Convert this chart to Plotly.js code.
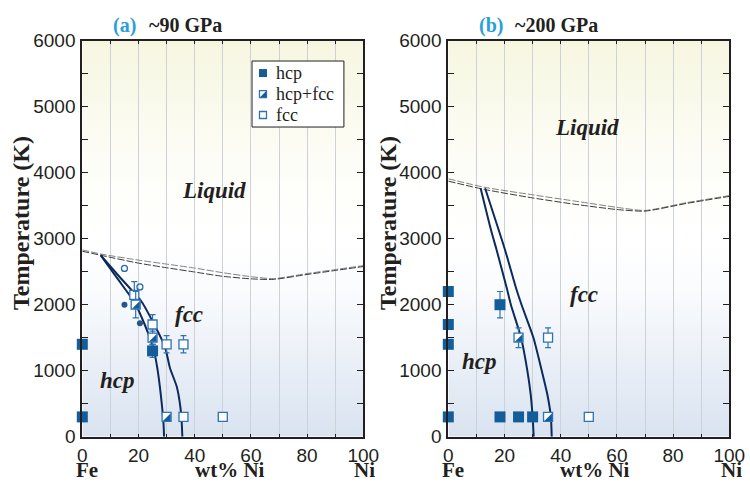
<!DOCTYPE html>
<html><head><meta charset="utf-8">
<script src="https://cdn.plot.ly/plotly-3.0.1.min.js"></script>
<style>html,body{margin:0;padding:0;background:#fff}#chart{width:750px;height:483px}</style>
</head><body><div id="chart"></div>
<script>
// ---------- DATA ----------
const xTickVals = [0, 20, 40, 60, 80, 100];
const yTickVals = [0, 1000, 2000, 3000, 4000, 5000, 6000];
const legendLabels = ['hcp', 'hcp+fcc', 'fcc'];

// Panel (a) ~90 GPa
const a_hcp_x = [0, 0, 25];
const a_hcp_T = [1400, 300, 1300];
const a_hcp_err = [0, 0, 100];
const a_mix_x = [19, 25, 30];
const a_mix_T = [2000, 1500, 300];
const a_mix_err = [200, 100, 0];
const a_fcc_x = [18.5, 25, 30, 36, 36, 50];
const a_fcc_T = [2150, 1700, 1400, 1400, 300, 300];
const a_fcc_err = [200, 150, 130, 130, 0, 0];
const a_open_x = [15, 20.5];
const a_open_T = [2550, 2270];
const a_dot_x = [15, 20.5];
const a_dot_T = [2000, 1720];
const a_liqU_x = [0, 7, 20, 30, 40, 50, 60, 68, 80, 90, 100];
const a_liqU_T = [2830, 2765, 2675, 2615, 2555, 2485, 2425, 2395, 2472, 2532, 2592];
const a_liqL_x = [0, 7, 20, 30, 40, 50, 60, 68, 80, 90, 100];
const a_liqL_T = [2810, 2745, 2630, 2560, 2495, 2430, 2392, 2383, 2458, 2518, 2578];
const a_bndL_x = [6.5, 12.6, 18.8, 22.2, 25.3, 26.7, 27.6, 28.4, 28.9, 29.1];
const a_bndL_T = [2750, 2390, 2020, 1700, 1340, 1040, 760, 450, 200, 0];
const a_bndU_x = [6.5, 13.3, 21.1, 25.6, 29.4, 31.2, 33.6, 34.9, 35.4, 35.6];
const a_bndU_T = [2750, 2420, 2045, 1700, 1364, 1040, 760, 450, 200, 0];

// Panel (b) ~200 GPa
const b_hcp_x = [0, 0, 0, 0, 18.4, 18.4, 25, 30];
const b_hcp_T = [2200, 1700, 1400, 300, 2000, 300, 300, 300];
const b_hcp_err = [0, 0, 0, 0, 200, 0, 0, 0];
const b_mix_x = [25, 35.5];
const b_mix_T = [1500, 300];
const b_mix_err = [150, 0];
const b_fcc_x = [35.5, 50];
const b_fcc_T = [1500, 300];
const b_fcc_err = [150, 0];
const b_liqU_x = [0, 13, 30, 45, 60, 70, 85, 100];
const b_liqU_T = [3908, 3778, 3665, 3570, 3475, 3428, 3548, 3653];
const b_liqL_x = [0, 13, 30, 45, 60, 70, 85, 100];
const b_liqL_T = [3872, 3745, 3618, 3522, 3442, 3418, 3536, 3641];
const b_bndL_x = [11.5, 15.2, 17.2, 20.8, 22.3, 25.9, 28.1, 29.3, 30.0, 30.4];
const b_bndL_T = [3764, 3131, 2829, 2253, 1995, 1500, 1010, 650, 303, 0];
const b_bndU_x = [13.1, 20.2, 24.1, 26.1, 30.3, 33.2, 35.2, 36.5, 36.8];
const b_bndU_T = [3764, 2829, 2253, 1995, 1500, 1010, 650, 303, 0];

// ---------- STYLE / LAYOUT ----------
const W = 750, H = 483;
const SERIF = 'Liberation Serif, Times New Roman, serif';
const SANS = 'Liberation Sans, Arial, sans-serif';
const BLUE = '#135d9b';
const EBLUE = '#2f72b2';
const NAVY = '#0c2a5c';
const INK = '#231f20';
const GRID = '#cdd1d8';
const DOM_A = [82.3 / W, 363.3 / W];
const DOM_B = [448.3 / W, 729.3 / W];
const DOM_Y = [1 - 436.7 / H, 1 - 40.7 / H];
const pxX = W * (DOM_A[1] - DOM_A[0]) / 100;
const pxY = H * (DOM_Y[1] - DOM_Y[0]) / 6000;

function errY(arr) {
  return {type: 'data', array: arr, visible: true, color: EBLUE, thickness: 1.2, width: 3};
}
function hcpTrace(x, y, err, xa, ya, size) {
  return {type: 'scatter', mode: 'markers', x: x, y: y, xaxis: xa, yaxis: ya, cliponaxis: false,
    error_y: err ? errY(err) : undefined, hoverinfo: 'skip', showlegend: false,
    marker: {symbol: 'square', size: size, color: BLUE, line: {width: 0}}};
}
function fccTrace(x, y, err, xa, ya, size) {
  return {type: 'scatter', mode: 'markers', x: x, y: y, xaxis: xa, yaxis: ya, cliponaxis: false,
    error_y: err ? errY(err) : undefined, hoverinfo: 'skip', showlegend: false,
    marker: {symbol: 'square', size: size, color: '#ffffff', line: {width: 1.3, color: EBLUE}}};
}
function mixTraces(x, y, err, xa, ya, size) {
  const off = size / 6;
  const tx = x.map(v => v + off / pxX);
  const ty = y.map(v => v - off / pxY);
  return [
    fccTrace(x, y, err, xa, ya, size),
    {type: 'scatter', mode: 'markers', x: tx, y: ty, xaxis: xa, yaxis: ya, cliponaxis: false,
      hoverinfo: 'skip', showlegend: false,
      marker: {symbol: 'triangle-se', size: (size + 1.3) / 1.2, color: BLUE, line: {width: 0}}}
  ];
}
function lineTrace(x, y, xa, ya, color, width, dash, shape) {
  return {type: 'scatter', mode: 'lines', x: x, y: y, xaxis: xa, yaxis: ya, hoverinfo: 'skip',
    showlegend: false, line: {color: color, width: width, dash: dash || 'solid', shape: shape || 'linear', smoothing: 0.6}};
}

const traces = [];
// panel a
traces.push(lineTrace(a_liqU_x, a_liqU_T, 'x', 'y', '#808080', 1, '7px,2px', 'spline'));
traces.push(lineTrace(a_liqL_x, a_liqL_T, 'x', 'y', '#3a3a3a', 1, '7px,2px', 'spline'));
traces.push(lineTrace(a_bndL_x, a_bndL_T, 'x', 'y', NAVY, 2, 'solid', 'spline'));
traces.push(lineTrace(a_bndU_x, a_bndU_T, 'x', 'y', NAVY, 2, 'solid', 'spline'));
traces.push({type: 'scatter', mode: 'markers', x: a_open_x, y: a_open_T, xaxis: 'x', yaxis: 'y', hoverinfo: 'skip', showlegend: false,
  marker: {symbol: 'circle-open', size: 6, color: '#2a6aa8', line: {width: 1.3}}});
traces.push({type: 'scatter', mode: 'markers', x: a_dot_x, y: a_dot_T, xaxis: 'x', yaxis: 'y', hoverinfo: 'skip', showlegend: false,
  marker: {symbol: 'circle', size: 6, color: '#24568c', line: {width: 0}}});
traces.push(fccTrace(a_fcc_x, a_fcc_T, a_fcc_err, 'x', 'y', 9));
mixTraces(a_mix_x, a_mix_T, a_mix_err, 'x', 'y', 9).forEach(t => traces.push(t));
traces.push(hcpTrace(a_hcp_x, a_hcp_T, a_hcp_err, 'x', 'y', 11));
// panel b
traces.push(lineTrace(b_liqU_x, b_liqU_T, 'x2', 'y2', '#808080', 1, '7px,2px', 'spline'));
traces.push(lineTrace(b_liqL_x, b_liqL_T, 'x2', 'y2', '#3a3a3a', 1, '7px,2px', 'spline'));
traces.push(lineTrace(b_bndL_x, b_bndL_T, 'x2', 'y2', NAVY, 2, 'solid', 'spline'));
traces.push(lineTrace(b_bndU_x, b_bndU_T, 'x2', 'y2', NAVY, 2, 'solid', 'spline'));
traces.push(fccTrace(b_fcc_x, b_fcc_T, b_fcc_err, 'x2', 'y2', 9));
mixTraces(b_mix_x, b_mix_T, b_mix_err, 'x2', 'y2', 9).forEach(t => traces.push(t));
traces.push(hcpTrace(b_hcp_x, b_hcp_T, b_hcp_err, 'x2', 'y2', 11));

// manual legend (panel a, in its data space)
const LEG = {x0: 60.4, x1: 93.1, y0: 4692, y1: 5692, iconX: 64.3, textX: 68.3, rows: [5510, 5192, 4874]};
traces.push(hcpTrace([LEG.iconX], [LEG.rows[0]], null, 'x', 'y', 8));
mixTraces([LEG.iconX], [LEG.rows[1]], null, 'x', 'y', 7).forEach(t => traces.push(t));
traces.push(fccTrace([LEG.iconX], [LEG.rows[2]], null, 'x', 'y', 7));

// background gradient image
const svg = "<svg xmlns='http://www.w3.org/2000/svg' width='10' height='100' viewBox='0 0 10 100' preserveAspectRatio='none'>" +
  "<defs><linearGradient id='g' x1='0' y1='0' x2='0' y2='1'>" +
  "<stop offset='0' stop-color='#f6f6e0'/><stop offset='0.3' stop-color='#fdfdf7'/>" +
  "<stop offset='0.5' stop-color='#ffffff'/><stop offset='0.62' stop-color='#fbfcfe'/>" +
  "<stop offset='1' stop-color='#d9e3f0'/></linearGradient></defs>" +
  "<rect width='10' height='100' fill='url(#g)'/></svg>";
const bgSrc = 'data:image/svg+xml;charset=utf-8,' + encodeURIComponent(svg);

function xAxis(dom, anchor) {
  return {domain: dom, anchor: anchor, range: [0, 100], tickvals: xTickVals, ticks: 'inside', ticklen: 3,
    tickwidth: 1, tickcolor: INK, showline: true, linecolor: INK, linewidth: 2, mirror: 'ticks',
    showgrid: true, gridcolor: GRID, gridwidth: 1, zeroline: false,
    tickfont: {family: SANS, size: 19, color: INK}, fixedrange: true,
    minor: {dtick: 10, ticks: 'inside', ticklen: 3, tickwidth: 1, tickcolor: INK, showgrid: true, gridcolor: GRID, gridwidth: 1}};
}
function yAxis(anchor) {
  return {domain: DOM_Y, anchor: anchor, range: [0, 6000], tickvals: yTickVals, ticks: 'inside', ticklen: 6,
    tickwidth: 1.5, tickcolor: INK, showline: true, linecolor: INK, linewidth: 2, mirror: 'ticks',
    showgrid: false, zeroline: false, ticklabelstandoff: 1,
    tickfont: {family: SANS, size: 19, color: INK}, fixedrange: true,
    minor: {dtick: 500, ticks: 'inside', ticklen: 6, tickwidth: 1.5, tickcolor: INK, showgrid: false}};
}

function ann(text, x, y, xref, yref, size, opts) {
  return Object.assign({text: text, x: x, y: y, xref: xref, yref: yref, showarrow: false,
    xanchor: 'center', yanchor: 'middle',
    font: {family: SERIF, size: size, color: INK}}, opts || {});
}
const BOT = {y: 0, yanchor: 'bottom', borderpad: 0};
const annotations = [
  // panel titles
  ann('<b>(a)</b>', 124.5 / W, 1 - 25 / H, 'paper', 'paper', 20, {font: {family: SERIF, size: 20, color: '#2aa0d8'}}),
  ann('<b>~90 GPa</b>', 147 / W, 1 - 25 / H, 'paper', 'paper', 20, {xanchor: 'left'}),
  ann('<b>(b)</b>', 491 / W, 1 - 25 / H, 'paper', 'paper', 20, {font: {family: SERIF, size: 20, color: '#2aa0d8'}}),
  ann('<b>~200 GPa</b>', 513 / W, 1 - 25 / H, 'paper', 'paper', 20, {xanchor: 'left'}),
  // y titles
  ann('<b>Temperature (K)</b>', 21 / W, 1 - 223 / H, 'paper', 'paper', 24, {textangle: -90}),
  ann('<b>Temperature (K)</b>', 388 / W, 1 - 223 / H, 'paper', 'paper', 24, {textangle: -90}),
  // x labels
  ann('<b>Fe</b>', 87 / W, 0, 'paper', 'paper', 21, BOT),
  ann('<b>wt% Ni</b>', 230 / W, 0, 'paper', 'paper', 21, BOT),
  ann('<b>Ni</b>', 364 / W, 0, 'paper', 'paper', 21, BOT),
  ann('<b>Fe</b>', 452.5 / W, 0, 'paper', 'paper', 21, BOT),
  ann('<b>wt% Ni</b>', 595 / W, 0, 'paper', 'paper', 21, BOT),
  ann('<b>Ni</b>', 731 / W, 0, 'paper', 'paper', 21, BOT),
  // phase labels
  ann('<b><i>Liquid</i></b>', 46.7, 3723, 'x', 'y', 23),
  ann('<b><i>fcc</i></b>', 38, 1859, 'x', 'y', 23),
  ann('<b><i>hcp</i></b>', 12.5, 859, 'x', 'y', 23),
  ann('<b><i>Liquid</i></b>', 49.2, 4692, 'x2', 'y2', 23),
  ann('<b><i>fcc</i></b>', 48.3, 2159, 'x2', 'y2', 23),
  ann('<b><i>hcp</i></b>', 11.1, 1147, 'x2', 'y2', 23),
];
legendLabels.forEach((lab, i) => {
  annotations.push(ann(lab, LEG.textX, LEG.rows[i], 'x', 'y', 18, {xanchor: 'left'}));
});

const layout = {
  width: W, height: H, margin: {l: 0, r: 0, t: 0, b: 0}, paper_bgcolor: '#ffffff', plot_bgcolor: 'rgba(0,0,0,0)',
  showlegend: false,
  xaxis: xAxis(DOM_A, 'y'), yaxis: yAxis('x'),
  xaxis2: xAxis(DOM_B, 'y2'), yaxis2: yAxis('x2'),
  images: [
    {source: bgSrc, xref: 'x', yref: 'y', x: 0, y: 6000, sizex: 100, sizey: 6000, sizing: 'stretch', layer: 'below', xanchor: 'left', yanchor: 'top'},
    {source: bgSrc, xref: 'x2', yref: 'y2', x: 0, y: 6000, sizex: 100, sizey: 6000, sizing: 'stretch', layer: 'below', xanchor: 'left', yanchor: 'top'}
  ],
  shapes: [
    {type: 'rect', xref: 'x', yref: 'y', x0: LEG.x0, x1: LEG.x1, y0: LEG.y0, y1: LEG.y1,
      line: {color: INK, width: 1}, fillcolor: '#ffffff', layer: 'between'}
  ],
  annotations: annotations
};

Plotly.newPlot('chart', traces, layout, {staticPlot: true, displayModeBar: false});
</script></body></html>
